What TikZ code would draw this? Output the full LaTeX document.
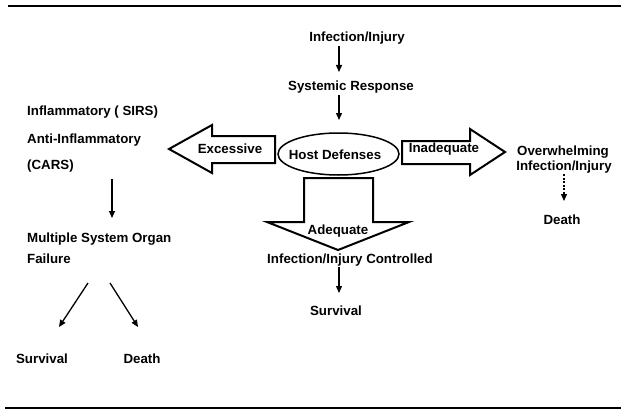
\documentclass[tikz,border=0pt]{standalone}
\usepackage{fontspec}
\setmainfont{Liberation Sans}
\usetikzlibrary{arrows.meta,shapes.geometric}
\tikzset{
  lbl/.style={inner sep=0pt, anchor=base, font=\fontsize{13.3}{15}\selectfont\bfseries},
  lbll/.style={lbl, anchor=base west},
  conn/.style={line width=1.3pt, -{Triangle[length=7pt,width=6pt]}},
  dconn/.style={conn, dash pattern=on 2pt off 1.5pt},
  blockarrow/.style={draw, line width=2pt, fill=white, line join=miter},
  rule/.style={line width=2pt}
}
\begin{document}
\begin{tikzpicture}[x=1pt,y=-1pt]
\useasboundingbox (0,0) rectangle (621,412);
% rules
\coordinate (t1) at (8,6); \coordinate (t2) at (621,6);
\coordinate (b1) at (5,408); \coordinate (b2) at (621,408);
\draw[rule] (t1) -- (t2);
\draw[rule] (b1) -- (b2);

% block arrows
\draw[blockarrow] (169,149) -- (212,125) -- (212,136) -- (275,136) -- (275,163) -- (212,163) -- (212,173) -- cycle;
\draw[blockarrow] (402,141) -- (470,141) -- (470,129) -- (505,152) -- (470,175) -- (470,164) -- (402,164) -- cycle;
\draw[blockarrow] (304,178) -- (373,178) -- (373,222) -- (409,222) -- (338,250) -- (267,222) -- (304,222) -- cycle;

\node[draw, ellipse, line width=1.5pt, minimum width=121pt, minimum height=42pt, inner sep=0pt, fill=white] (host) at (338.5,154) {};
\node[lbl] (hostt) at (335,159) {Host Defenses};
\node[lbl] (exc) at (230,153) {Excessive};
\node[lbl] (inad) at (444,152) {Inadequate};
\node[lbl] (adeq) at (338,234) {Adequate};

% centre column
\node[lbl] (inj) at (357,42) {Infection/Injury};
\node[lbl] (sys) at (351,90) {Systemic Response};
\node[lbl] (ctrl) at (350,263) {Infection/Injury Controlled};
\node[lbl] (surv) at (336,315) {Survival};
\coordinate (a1s) at (339,46); \coordinate (a1e) at (339,72);
\coordinate (a2s) at (339,95); \coordinate (a2e) at (339,120);
\coordinate (a3s) at (339,267); \coordinate (a3e) at (339,293);
\draw[conn] (a1s) -- (a1e);
\draw[conn] (a2s) -- (a2e);
\draw[conn] (a3s) -- (a3e);

% left column
\node[lbll] (sirs) at (27,115) {Inflammatory ( SIRS)};
\node[lbll] (anti) at (27,143) {Anti-Inflammatory};
\node[lbll] (cars) at (27,169) {(CARS)};
\node[lbll] (mso) at (27,242) {Multiple System Organ};
\node[lbll] (fail) at (27,263) {Failure};
\node[lbl] (lsurv) at (42,363) {Survival};
\node[lbl] (ldeath) at (142,363) {Death};
\coordinate (l1s) at (112,179); \coordinate (l1e) at (112,218);
\coordinate (l2s) at (88,283); \coordinate (l2e) at (59,327);
\coordinate (l3s) at (110,283); \coordinate (l3e) at (138,327);
\draw[conn] (l1s) -- (l1e);
\draw[conn] (l2s) -- (l2e);
\draw[conn] (l3s) -- (l3e);

% right column
\node[lbl] (over) at (563,155) {Overwhelming};
\node[lbl] (rinj) at (564,170) {Infection/Injury};
\node[lbl] (rdeath) at (562,224) {Death};
\coordinate (r1s) at (564,174); \coordinate (r1e) at (564,201);
\draw[dconn] (r1s) -- (r1e);
\end{tikzpicture}
\end{document}
